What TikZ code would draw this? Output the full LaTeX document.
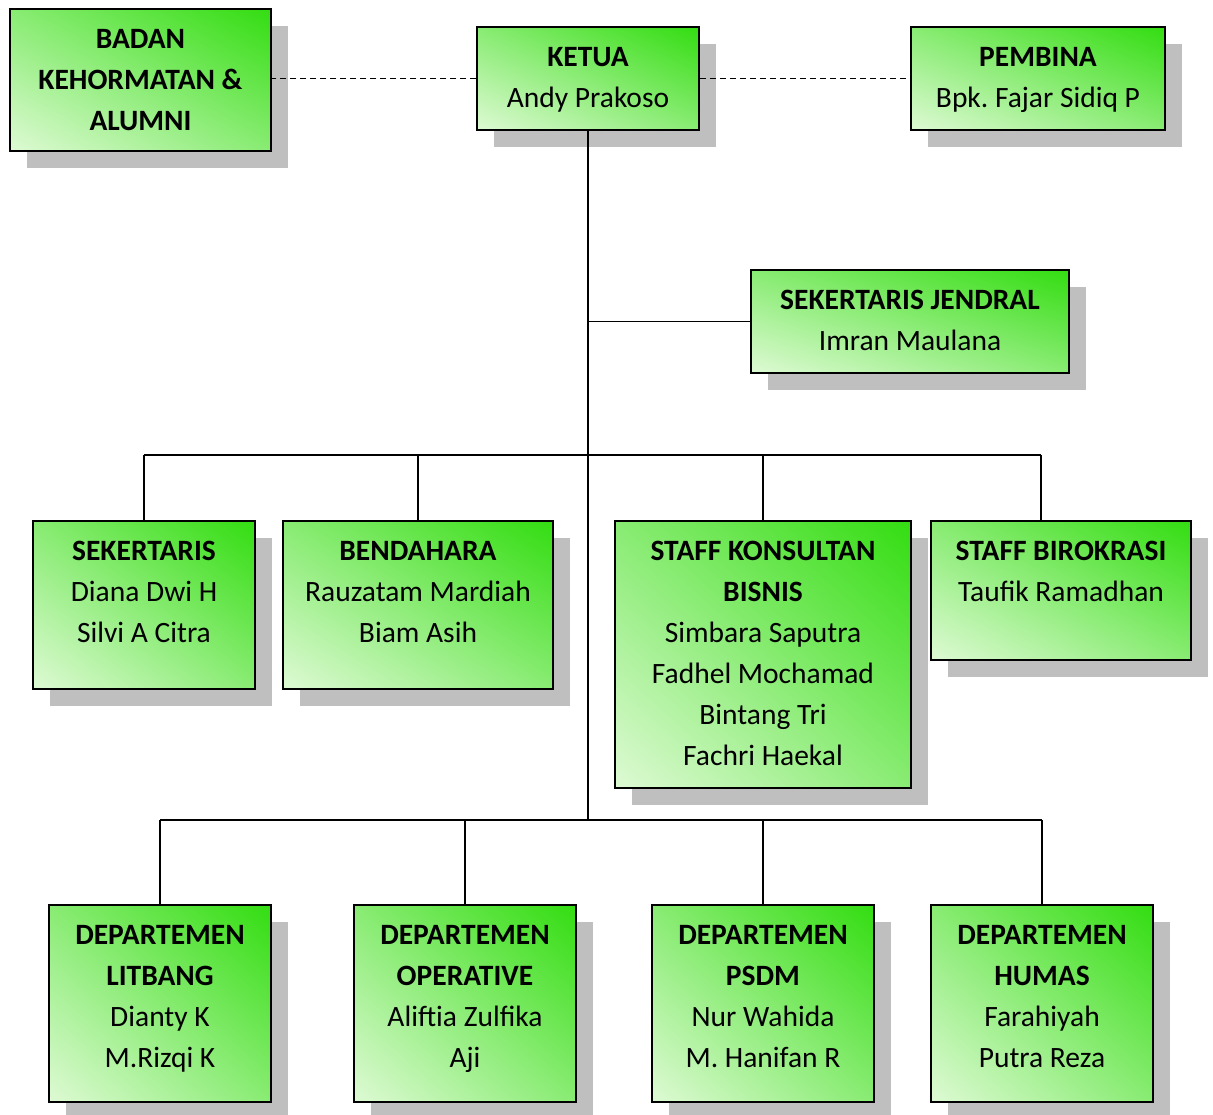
\documentclass[tikz,border=0pt]{standalone}
\usepackage{fontspec}
\setmainfont{Carlito}
\usetikzlibrary{shadings}
\frenchspacing
\definecolor{gdark}{RGB}{51,221,17}
\definecolor{glight}{RGB}{222,250,212}
\definecolor{shadowgray}{RGB}{191,191,191}
\colorlet{gmid}{gdark!50!glight}
\tikzset{
  orgbox/.style={draw=black, line width=1.5pt, rectangle, inner sep=0pt,
    upper right=gdark, lower left=glight, upper left=gmid, lower right=gmid},
  orgtext/.style={inner sep=0pt, align=center, font=\fontsize{29.5}{41}\selectfont, text=black},
  conn/.style={line width=1.5pt, black},
  dconn/.style={line width=1.6pt, black, dash pattern=on 6pt off 4pt}
}
\newcommand\obox[6]{%
  \fill[shadowgray] ({#2+17},{#3+17}) rectangle ({#4+17},{#5+17});
  \node[orgbox, minimum width={#4-#2}, minimum height={#5-#3}] (#1) at ({(#2+#4)/2},{(#3+#5)/2}) {};
  \node[orgtext, anchor=north] (#1t) at ({(#2+#4)/2},{#3+20}) {#6};
}
\begin{document}
\begin{tikzpicture}[x=1pt,y=-1pt]
\useasboundingbox (0,0) rectangle (1213,1114);
\coordinate (barA) at (588,455);
\coordinate (barB) at (588,820);
\obox{badan}{10}{9}{271}{151}{\textbf{BADAN}\\\textbf{KEHORMATAN \&}\\\textbf{ALUMNI}}
\obox{ketua}{477}{27}{699}{130}{\textbf{KETUA}\\Andy Prakoso}
\obox{pembina}{911}{27}{1165}{130}{\textbf{PEMBINA}\\Bpk. Fajar Sidiq P}
\obox{sekjen}{751}{270}{1069}{373}{\textbf{SEKERTARIS JENDRAL}\\Imran Maulana}
\obox{sek}{33}{521}{255}{689}{\textbf{SEKERTARIS}\\Diana Dwi H\\Silvi A Citra}
\obox{bend}{283}{521}{553}{689}{\textbf{BENDAHARA}\\Rauzatam Mardiah\\Biam Asih}
\obox{konsul}{615}{521}{911}{788}{\textbf{STAFF KONSULTAN}\\\textbf{BISNIS}\\Simbara Saputra\\Fadhel Mochamad\\Bintang Tri\\Fachri Haekal}
\obox{bir}{931}{521}{1191}{660}{\textbf{STAFF BIROKRASI}\\Taufik Ramadhan}
\obox{litbang}{49}{905}{271}{1102}{\textbf{DEPARTEMEN}\\\textbf{LITBANG}\\Dianty K\\M.Rizqi K}
\obox{oper}{354}{905}{576}{1102}{\textbf{DEPARTEMEN}\\\textbf{OPERATIVE}\\Aliftia Zulfika\\Aji}
\obox{psdm}{652}{905}{874}{1102}{\textbf{DEPARTEMEN}\\\textbf{PSDM}\\Nur Wahida\\M. Hanifan R}
\obox{humas}{931}{905}{1153}{1102}{\textbf{DEPARTEMEN}\\\textbf{HUMAS}\\Farahiyah\\Putra Reza}
% dashed links
\draw[dconn] (ketua.west) -- (ketua.west -| badan.east);
\draw[dconn] (ketua.east) -- (ketua.east -| pembina.west);
% trunk
\draw[conn] (ketua.south) -- (barB);
\draw[conn] (sekjen.west -| ketua.south) -- (sekjen.west);
% upper bar
\draw[conn] (sek.north |- barA) -- (1041,455);
\draw[conn] (sek.north) -- (sek.north |- barA);
\draw[conn] (bend.north) -- (bend.north |- barA);
\draw[conn] (konsul.north) -- (konsul.north |- barA);
\draw[conn] (1041,455) -- (1041,455 |- bir.north);
% lower bar
\draw[conn] (litbang.north |- barB) -- (humas.north |- barB);
\draw[conn] (litbang.north) -- (litbang.north |- barB);
\draw[conn] (oper.north) -- (oper.north |- barB);
\draw[conn] (psdm.north) -- (psdm.north |- barB);
\draw[conn] (humas.north) -- (humas.north |- barB);
\end{tikzpicture}
\end{document}
